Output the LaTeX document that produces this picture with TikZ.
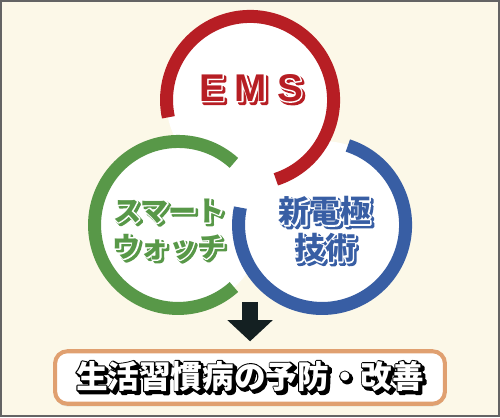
\documentclass[tikz,border=0pt]{standalone}
\usepackage{fontspec}
\usetikzlibrary{arrows.meta,shadows}
\setmainfont{Liberation Sans}
\newfontfamily\jpfont{Noto Sans CJK JP}
\definecolor{cream}{RGB}{252,248,232}
\definecolor{framegray}{RGB}{100,100,100}
\definecolor{emsred}{RGB}{183,30,36}
\definecolor{watchgreen}{RGB}{88,152,72}
\definecolor{techblue}{RGB}{56,94,164}
\definecolor{boxorange}{RGB}{224,160,112}
\definecolor{arrowdark}{RGB}{20,32,34}
% stroked text: colour, width, text
\newcommand\strk[3]{{\color{#1}\special{pdf:literal direct 2 Tr #2 w 1 j}#3\special{pdf:literal direct 0 Tr}}}
% shadow colour, outline colour, text
\newcommand\layered[3]{\rlap{\kern1.3pt\raisebox{-1.3pt}{\strk{#1}{1.8}{#3}}}\rlap{\strk{#2}{1.5}{#3}}#3}
\begin{document}
\begin{tikzpicture}[scale=0.02,
  ring/.style={line width=7.4pt},
  jptxt/.style={font=\jpfont\bfseries\fontsize{16}{20}\selectfont,inner sep=0pt}]
\useasboundingbox (0,0) rectangle (500,417);
\draw[line width=1.2pt,draw=framegray,fill=cream] (1,1) rectangle (499,416);
\coordinate (ems) at (250,317);
\coordinate (watch) at (178,192);
\coordinate (tech) at (322,192);
\foreach \c in {ems,watch,tech}
  \fill[white] (\c) circle [radius=84];
\draw[ring,emsred] (ems) ++(-72:83.5) arc[start angle=-72,end angle=192,radius=83.5];
\draw[ring,watchgreen] (watch) ++(48:83.5) arc[start angle=48,end angle=312,radius=83.5];
\draw[ring,techblue] (tech) ++(168:83.5) arc[start angle=168,end angle=432,radius=83.5];
\node[inner sep=0pt,text=emsred,font=\bfseries\fontsize{22}{24}\selectfont\addfontfeature{LetterSpace=26}] (emslabel) at (251,328) {\layered{emsred}{white}{EMS}};
\node[jptxt,text=watchgreen] (watch1) at (169,205) {\layered{watchgreen}{white}{スマート}};
\node[jptxt,text=watchgreen] (watch2) at (169,169) {\layered{watchgreen}{white}{ウォッチ}};
\node[jptxt,text=techblue,font=\jpfont\bfseries\fontsize{17.5}{20}\selectfont] (tech1) at (325,205) {\layered{techblue}{white}{新電極}};
\node[jptxt,text=techblue,font=\jpfont\bfseries\fontsize{17.5}{20}\selectfont] (tech2) at (325,168) {\layered{techblue}{white}{技術}};
\node[draw=boxorange,line width=2.3pt,fill=white,rounded corners=7pt,
  minimum width=7.8cm,minimum height=1.05cm,
  drop shadow={opacity=0.25,shadow xshift=0pt,shadow yshift=-1.5pt},
  jptxt,text=white,font=\jpfont\bfseries\fontsize{18}{20}\selectfont] (goal) at (250,39.5)
  {\layered{black}{black}{生活習慣病の予防・改善}};
\coordinate (arrowtop) at (250,115);
\draw[line width=9pt,arrowdark,-{Triangle[width=25pt,length=12pt]},shorten >=4.5pt] (arrowtop) -- (goal.north);
\end{tikzpicture}
\end{document}
